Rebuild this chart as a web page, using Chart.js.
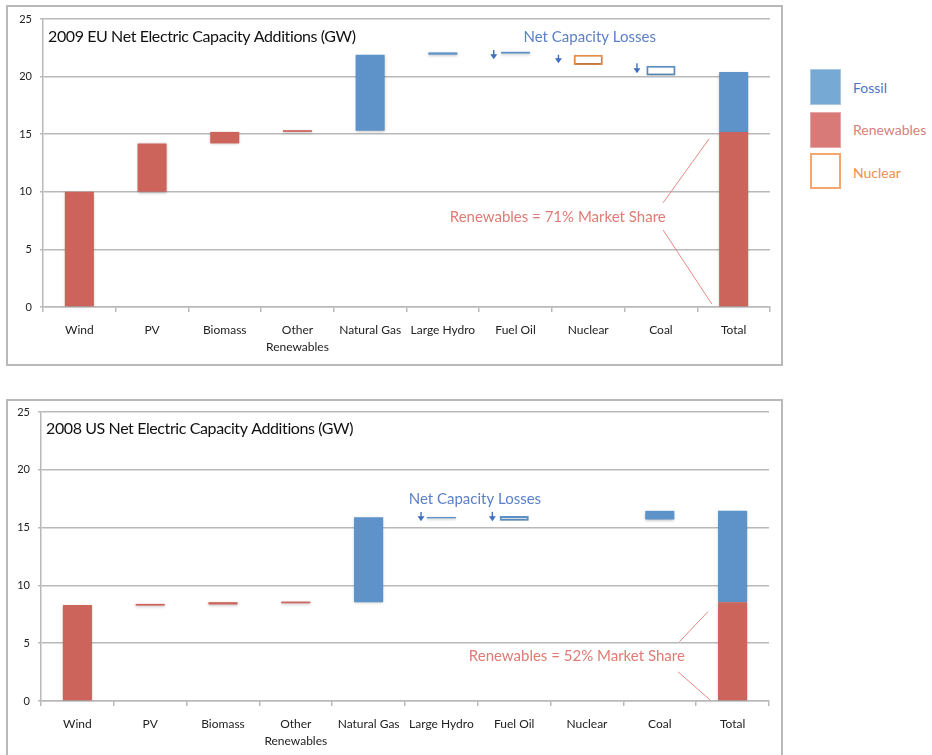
<!DOCTYPE html>
<html>
<head>
<meta charset="utf-8">
<script src="https://cdn.jsdelivr.net/npm/chart.js@4.4.1/dist/chart.umd.min.js"></script>
<style>
  body { margin: 0; background: #fff; width: 932px; height: 755px; overflow: hidden; position: relative; font-family: Lato, sans-serif; }
  .frame { position: absolute; box-sizing: border-box; border: 2px solid #b9b9b9; }
  canvas { position: absolute; left: 0; }
  .key { position: absolute; left: 810px; width: 31px; height: 36px; box-sizing: border-box; }
  .keytxt { position: absolute; left: 853px; font-size: 14px; }
</style>
</head>
<body>
<div class="frame" style="left:6px;top:5px;width:777px;height:361px"></div>
<div class="frame" style="left:6px;top:399px;width:777px;height:400px"></div>
<canvas id="eu" width="790" height="372" style="top:0"></canvas>
<canvas id="us" width="790" height="365" style="top:390px"></canvas>

<div class="key" style="top:69px;background:#77a9d5;border:1px solid #a9c8e6"></div>
<div class="keytxt" style="top:79px;color:#4f76c2">Fossil</div>
<div class="key" style="top:112px;background:#d87a77;border:1px solid #e6a6a3"></div>
<div class="keytxt" style="top:121px;color:#d77f7a">Renewables</div>
<div class="key" style="top:153px;background:#fff;border:2px solid #f5a56e"></div>
<div class="keytxt" style="top:164px;color:#ef8e4e">Nuclear</div>

<script>
// categories + values (GW), floating bars as [from, to]
const categories = ['Wind', 'PV', 'Biomass', ['Other', 'Renewables'], 'Natural Gas', 'Large Hydro', 'Fuel Oil', 'Nuclear', 'Coal', 'Total'];
const yTicks = [0, 5, 10, 15, 20, 25];

// 2009 EU
const euRenewables = [[0, 10], [10, 14.2], [14.2, 15.2], [15.2, 15.35], null, null, null, null, null, [0, 15.2]];
const euFossil = [null, null, null, null, [15.3, 21.9], [21.9, 22.1], [22.0, 22.15], null, null, [15.2, 20.4]];
const euFossilLoss = [null, null, null, null, null, null, null, null, [20.1, 20.95], null];
const euNuclearLoss = [null, null, null, null, null, null, null, [21.0, 21.9], null, null];

// 2008 US
const usRenewables = [[0, 8.3], [8.25, 8.4], [8.35, 8.55], [8.45, 8.6], null, null, null, null, null, [0, 8.55]];
const usFossil = [null, null, null, null, [8.55, 15.9], [15.8, 15.92], null, null, [15.7, 16.45], [8.55, 16.45]];
const usFossilLoss = [null, null, null, null, null, null, [15.6, 16.0], null, null, null];
const usNuclearLoss = [null, null, null, null, null, null, null, null, null, null];

const RED = '#cd645c';
const BLUE = '#5d93c8';
const GRID = '#b9b9b9';

// soft drop shadow under bars
const shadow = {
    id: 'shadow',
    beforeDatasetsDraw(chart) {
        const ctx = chart.ctx;
        ctx.save();
        ctx.shadowColor = 'rgba(0,0,0,0.28)';
        ctx.shadowBlur = 3;
        ctx.shadowOffsetY = 1;
    },
    afterDatasetsDraw(chart) { chart.ctx.restore(); }
};

// title, "Net Capacity Losses", arrows, market share note
const notes = {
    id: 'notes',
    afterDraw(chart, args, o) {
        const ctx = chart.ctx, xs = chart.scales.x, ys = chart.scales.y, a = chart.chartArea;
        const X = i => xs.getPixelForValue(i), Y = v => ys.getPixelForValue(v);
        ctx.save();
        ctx.textBaseline = 'middle';
        ctx.fillStyle = '#111';
        ctx.font = '16px Lato';
        ctx.letterSpacing = '-0.4px';
        ctx.textAlign = 'left';
        ctx.fillText(o.title, a.left + o.titleDx, a.top + o.titleDy);
        ctx.letterSpacing = '0px';

        ctx.fillStyle = '#5b80c8';
        ctx.font = '15px Lato';
        ctx.textAlign = 'center';
        ctx.fillText('Net Capacity Losses', X(o.losses[0]), Y(o.losses[1]));

        ctx.strokeStyle = '#3f6fc0';
        ctx.fillStyle = '#3f6fc0';
        ctx.lineWidth = 1.4;
        o.arrows.forEach(([i, v1, v2]) => {
            const x = X(i), y1 = Y(v1), y2 = Y(v2);
            ctx.beginPath(); ctx.moveTo(x, y1); ctx.lineTo(x, y2 - 3); ctx.stroke();
            ctx.beginPath(); ctx.moveTo(x - 3.5, y2 - 5); ctx.lineTo(x + 3.5, y2 - 5); ctx.lineTo(x, y2); ctx.closePath(); ctx.fill();
        });

        ctx.fillStyle = '#df7b74';
        ctx.font = '15px Lato';
        ctx.fillText(o.share, X(o.shareAt[0]), Y(o.shareAt[1]));
        ctx.strokeStyle = '#e48a84';
        ctx.lineWidth = 1;
        o.shareLines.forEach(([i1, v1, i2, v2]) => {
            ctx.beginPath(); ctx.moveTo(X(i1), Y(v1)); ctx.lineTo(X(i2), Y(v2)); ctx.stroke();
        });
        ctx.restore();
    }
};

function makeChart(el, sets, pad, yWidth, xHeight, note) {
    const solid = (data, color) => ({ data, backgroundColor: color, borderWidth: 0, grouped: false });
    const outline = (data, color, fill) => ({ data, backgroundColor: fill, borderColor: color, borderWidth: 2, borderSkipped: false, grouped: false });
    return new Chart(document.getElementById(el), {
        type: 'bar',
        data: {
            labels: categories,
            datasets: [
                solid(sets[0], RED),
                solid(sets[1], BLUE),
                outline(sets[2], BLUE, sets[4]),
                outline(sets[3], '#ea924f', '#ffffff')
            ]
        },
        options: {
            responsive: false,
            animation: false,
            categoryPercentage: 1,
            barPercentage: 0.4,
            layout: { padding: pad },
            scales: {
                x: {
                    grid: { drawOnChartArea: false, drawTicks: true, tickLength: 5, color: GRID, lineWidth: 1.5 },
                    border: { color: GRID, width: 1.5 },
                    ticks: { color: '#222', font: { family: 'Lato', size: 12, lineHeight: 1.4 }, padding: 10, maxRotation: 0, autoSkip: false },
                    afterFit: s => { s.height = xHeight; }
                },
                y: {
                    min: yTicks[0],
                    max: yTicks[yTicks.length - 1],
                    afterBuildTicks: s => { s.ticks = yTicks.map(v => ({ value: v })); },
                    grid: { color: GRID, lineWidth: 1.5, tickLength: 3 },
                    border: { color: GRID, width: 1.5 },
                    ticks: { color: '#222', font: { family: 'Lato', size: 11 }, padding: 8 },
                    afterFit: s => { s.width = yWidth; }
                }
            },
            plugins: { legend: { display: false }, tooltip: { enabled: false }, notes: note }
        },
        plugins: [shadow, notes]
    });
}

makeChart('eu', [euRenewables, euFossil, euFossilLoss, euNuclearLoss, '#ffffff'],
    { top: 19, right: 20, left: 0, bottom: 0 }, 43, 65, {
        title: '2009 EU Net Electric Capacity Additions (GW)', titleDx: 5, titleDy: 18,
        losses: [7.02, 23.4],
        arrows: [[5.7, 22.3, 21.5], [6.59, 21.9, 21.15], [7.67, 21.15, 20.3]],
        share: 'Renewables = 71% Market Share', shareAt: [6.58, 7.84],
        shareLines: [[8.03, 9.05, 8.66, 14.58], [8.03, 6.68, 8.7, 0.26]]
    });

makeChart('us', [usRenewables, usFossil, usFossilLoss, usNuclearLoss, '#dfe5ee'],
    { top: 22, right: 21, left: 0, bottom: 0 }, 41, 54, {
        title: '2008 US Net Electric Capacity Additions (GW)', titleDx: 5, titleDy: 17,
        losses: [5.46, 17.46],
        arrows: [[4.72, 16.36, 15.56], [5.7, 16.36, 15.56]],
        share: 'Renewables = 52% Market Share', shareAt: [6.86, 3.92],
        shareLines: [[8.27, 5.13, 8.66, 7.72], [8.25, 2.53, 8.69, 0.09]]
    });
</script>
</body>
</html>
